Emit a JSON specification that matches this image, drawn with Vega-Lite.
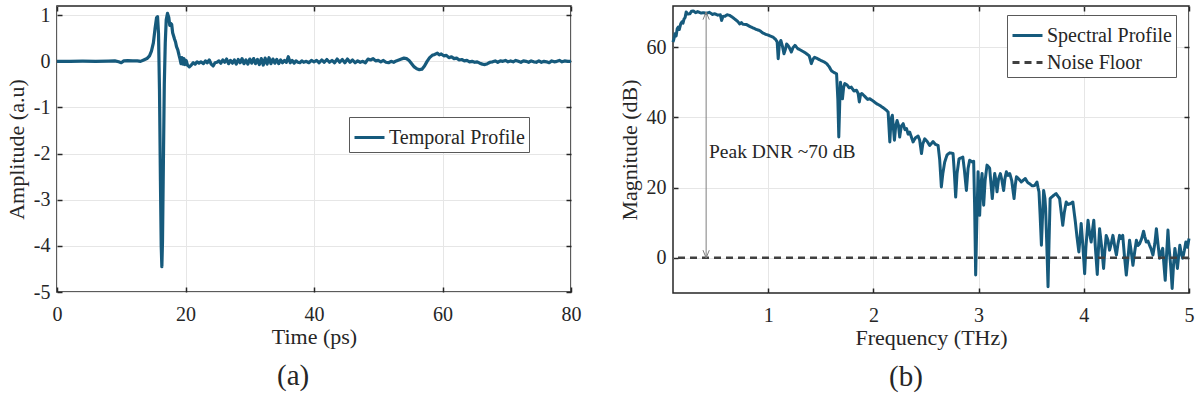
{
  "$schema": "https://vega.github.io/schema/vega-lite/v6.json",
  "background": "white",
  "padding": {"left": 4, "top": 4, "right": 0, "bottom": 0},
  "spacing": 102,
  "bounds": "flush",
  "resolve": {"scale": {"color": "independent", "strokeDash": "independent"}, "legend": {"color": "independent", "strokeDash": "independent"}},
  "config": {
    "font": "Liberation Serif",
    "view": {"stroke": "#262626", "strokeWidth": 1.5},
    "axis": {
      "labelFont": "Liberation Serif", "titleFont": "Liberation Serif",
      "labelFontSize": 20, "titleFontSize": 22, "titleFontWeight": "normal",
      "labelColor": "#262626", "titleColor": "#262626",
      "gridColor": "#e6e6e6", "gridWidth": 1, "domain": false,
      "tickColor": "#262626", "tickSize": -5, "tickWidth": 1.5
    },
    "legend": {
      "labelFont": "Liberation Serif", "labelFontSize": 20, "labelColor": "#262626",
      "fillColor": "#ffffff", "strokeColor": "#595959", "padding": 4,
      "symbolType": "stroke", "symbolSize": 900, "symbolStrokeWidth": 3,
      "labelOffset": 3, "rowPadding": 0, "title": null
    },
    "title": {"font": "Liberation Serif", "fontWeight": "normal", "color": "#262626"},
    "text": {"font": "Liberation Serif"}
  },
  "datasets": {
    "temporal": [
      {"t":0,"a":0},{"t":2,"a":0},{"t":4,"a":0.003},{"t":6,"a":0},{"t":8,"a":0.005},{"t":9,"a":0.01},{"t":9.6,"a":-0.01},{"t":10,"a":-0.03},{"t":10.4,"a":0.01},{"t":11,"a":0.015},{"t":11.8,"a":0.01},{"t":12.5,"a":0.01},{"t":13,"a":0},{"t":13.5,"a":0.03},{"t":14,"a":0.06},{"t":14.4,"a":0.12},{"t":14.7,"a":0.22},{"t":15,"a":0.4},{"t":15.25,"a":0.7},{"t":15.5,"a":0.95},{"t":15.65,"a":0.97},{"t":15.8,"a":0.6},{"t":15.95,"a":-0.6},{"t":16.1,"a":-2.6},{"t":16.22,"a":-4},{"t":16.32,"a":-4.45},{"t":16.42,"a":-3.9},{"t":16.55,"a":-2.3},{"t":16.7,"a":-0.5},{"t":16.85,"a":0.4},{"t":17,"a":0.9},{"t":17.2,"a":1.04},{"t":17.4,"a":0.95},{"t":17.55,"a":0.78},{"t":17.7,"a":0.82},{"t":17.85,"a":0.8},{"t":18,"a":0.62},{"t":18.15,"a":0.55},{"t":18.3,"a":0.48},{"t":18.45,"a":0.42},{"t":18.6,"a":0.32},{"t":18.8,"a":0.25},{"t":19,"a":0.13},{"t":19.15,"a":0.05},{"t":19.3,"a":-0.05},{"t":19.45,"a":0.08},{"t":19.6,"a":-0.06},{"t":19.75,"a":0.06},{"t":19.9,"a":-0.07},{"t":20.1,"a":0.02},{"t":20.3,"a":-0.08},{"t":20.6,"a":-0.12},{"t":20.9,"a":-0.08},{"t":21.2,"a":-0.03},{"t":21.5,"a":-0.06},{"t":21.8,"a":-0.01},{"t":22.1,"a":-0.04},{"t":22.4,"a":-0.01},{"t":22.8,"a":-0.05},{"t":23.1,"a":0.01},{"t":23.4,"a":-0.03},{"t":23.7,"a":0.03},{"t":24,"a":-0.06},{"t":24.3,"a":-0.1},{"t":24.6,"a":-0.03},{"t":24.9,"a":-0.02},{"t":25.2,"a":0.01},{"t":25.5,"a":-0.04},{"t":25.8,"a":0.03},{"t":26.1,"a":-0.02},{"t":26.4,"a":0.05},{"t":26.7,"a":-0.05},{"t":27,"a":0.02},{"t":27.3,"a":-0.04},{"t":27.6,"a":0.03},{"t":27.9,"a":-0.06},{"t":28.2,"a":0.04},{"t":28.5,"a":-0.03},{"t":28.8,"a":0.06},{"t":29.1,"a":-0.05},{"t":29.4,"a":0.03},{"t":29.7,"a":-0.06},{"t":30,"a":0.05},{"t":30.3,"a":-0.04},{"t":30.6,"a":0.06},{"t":30.9,"a":-0.05},{"t":31.2,"a":0.04},{"t":31.5,"a":-0.07},{"t":31.8,"a":0.06},{"t":32.1,"a":-0.08},{"t":32.4,"a":0.07},{"t":32.7,"a":-0.06},{"t":33,"a":0.08},{"t":33.3,"a":-0.05},{"t":33.6,"a":0.05},{"t":33.9,"a":-0.04},{"t":34.2,"a":0.04},{"t":34.5,"a":-0.05},{"t":34.8,"a":0.03},{"t":35.1,"a":-0.03},{"t":35.4,"a":0.02},{"t":35.7,"a":-0.02},{"t":36,"a":0.1},{"t":36.3,"a":-0.03},{"t":36.6,"a":0.02},{"t":36.9,"a":-0.04},{"t":37.2,"a":0.01},{"t":37.5,"a":-0.02},{"t":37.8,"a":-0.03},{"t":38.1,"a":0.01},{"t":38.4,"a":-0.02},{"t":38.8,"a":0},{"t":39.2,"a":-0.03},{"t":39.6,"a":0.02},{"t":40,"a":-0.01},{"t":40.4,"a":0.02},{"t":40.8,"a":-0.03},{"t":41.2,"a":0.03},{"t":41.6,"a":-0.02},{"t":42,"a":0.04},{"t":42.4,"a":-0.02},{"t":42.8,"a":0.02},{"t":43.2,"a":-0.03},{"t":43.6,"a":0.05},{"t":44,"a":-0.02},{"t":44.4,"a":0.04},{"t":44.8,"a":-0.03},{"t":45.2,"a":0.05},{"t":45.6,"a":-0.02},{"t":46,"a":0.03},{"t":46.4,"a":-0.03},{"t":46.8,"a":0.01},{"t":47.2,"a":-0.02},{"t":47.6,"a":0},{"t":48,"a":-0.03},{"t":48.4,"a":0.05},{"t":48.8,"a":0.03},{"t":49.2,"a":0.06},{"t":49.6,"a":0.01},{"t":50,"a":0.02},{"t":50.4,"a":-0.01},{"t":50.8,"a":0.02},{"t":51.2,"a":-0.02},{"t":51.6,"a":-0.03},{"t":52,"a":0},{"t":52.4,"a":-0.02},{"t":52.8,"a":0.01},{"t":53.2,"a":0.03},{"t":53.6,"a":0.05},{"t":54,"a":0.07},{"t":54.4,"a":0.06},{"t":54.8,"a":0.02},{"t":55.2,"a":-0.05},{"t":55.6,"a":-0.12},{"t":56,"a":-0.16},{"t":56.4,"a":-0.18},{"t":56.8,"a":-0.17},{"t":57.2,"a":-0.1},{"t":57.6,"a":0},{"t":58,"a":0.08},{"t":58.4,"a":0.13},{"t":58.8,"a":0.15},{"t":59.2,"a":0.18},{"t":59.5,"a":0.14},{"t":59.8,"a":0.16},{"t":60.2,"a":0.12},{"t":60.6,"a":0.13},{"t":61,"a":0.08},{"t":61.4,"a":0.1},{"t":61.8,"a":0.06},{"t":62.2,"a":0.07},{"t":62.6,"a":0.03},{"t":63,"a":0.04},{"t":63.4,"a":0.01},{"t":63.8,"a":0.02},{"t":64.2,"a":-0.01},{"t":64.6,"a":0},{"t":65,"a":-0.02},{"t":65.4,"a":-0.01},{"t":65.8,"a":-0.04},{"t":66.2,"a":-0.06},{"t":66.6,"a":-0.07},{"t":67,"a":-0.05},{"t":67.4,"a":-0.02},{"t":67.8,"a":-0.01},{"t":68.2,"a":0.01},{"t":68.6,"a":-0.02},{"t":69,"a":0.01},{"t":69.4,"a":0},{"t":69.8,"a":0.02},{"t":70.2,"a":-0.01},{"t":70.6,"a":0.01},{"t":71,"a":-0.01},{"t":71.4,"a":0.02},{"t":71.8,"a":0},{"t":72.2,"a":-0.02},{"t":72.6,"a":0.01},{"t":73,"a":0},{"t":73.4,"a":-0.02},{"t":73.8,"a":0.01},{"t":74.2,"a":-0.01},{"t":74.6,"a":-0.02},{"t":75,"a":0.01},{"t":75.4,"a":-0.02},{"t":75.8,"a":0},{"t":76.2,"a":-0.01},{"t":76.6,"a":-0.03},{"t":77,"a":0.01},{"t":77.4,"a":-0.01},{"t":77.8,"a":0},{"t":78.2,"a":0.02},{"t":78.6,"a":-0.01},{"t":79,"a":0.01},{"t":79.5,"a":0},{"t":80,"a":0}
    ],
    "spectral": [
      {"f":0.095,"db":61.4},{"f":0.105,"db":62.5},{"f":0.114,"db":63.8},{"f":0.125,"db":63.2},{"f":0.135,"db":65.2},{"f":0.145,"db":65.7},{"f":0.155,"db":65},{"f":0.168,"db":66.6},{"f":0.18,"db":67.2},{"f":0.19,"db":66.8},{"f":0.2,"db":68},{"f":0.21,"db":68.4},{"f":0.22,"db":70},{"f":0.235,"db":69.4},{"f":0.256,"db":69.5},{"f":0.27,"db":70.2},{"f":0.288,"db":70.3},{"f":0.31,"db":69.8},{"f":0.33,"db":70.1},{"f":0.36,"db":69.7},{"f":0.383,"db":69.8},{"f":0.41,"db":69.6},{"f":0.44,"db":69.9},{"f":0.47,"db":69.3},{"f":0.494,"db":69.5},{"f":0.52,"db":69.1},{"f":0.545,"db":69.2},{"f":0.557,"db":67.6},{"f":0.57,"db":68.7},{"f":0.59,"db":68.8},{"f":0.61,"db":69.2},{"f":0.636,"db":69},{"f":0.66,"db":68.5},{"f":0.69,"db":67.8},{"f":0.71,"db":67.3},{"f":0.73,"db":66.6},{"f":0.745,"db":67},{"f":0.76,"db":66.5},{"f":0.795,"db":66.4},{"f":0.83,"db":65.8},{"f":0.86,"db":65.4},{"f":0.89,"db":65},{"f":0.92,"db":64.7},{"f":0.95,"db":64},{"f":0.98,"db":63.6},{"f":1.01,"db":63.3},{"f":1.048,"db":62.8},{"f":1.07,"db":62.2},{"f":1.085,"db":61.5},{"f":1.095,"db":56.7},{"f":1.105,"db":60.5},{"f":1.12,"db":61.9},{"f":1.135,"db":60.3},{"f":1.15,"db":58.1},{"f":1.165,"db":59.5},{"f":1.175,"db":60.9},{"f":1.195,"db":60.2},{"f":1.22,"db":58.6},{"f":1.235,"db":59.8},{"f":1.254,"db":60.5},{"f":1.28,"db":59.6},{"f":1.31,"db":59.1},{"f":1.34,"db":58.6},{"f":1.365,"db":58.1},{"f":1.39,"db":57.5},{"f":1.41,"db":55.3},{"f":1.425,"db":56.5},{"f":1.44,"db":57.1},{"f":1.47,"db":56.7},{"f":1.5,"db":56.2},{"f":1.53,"db":55.8},{"f":1.555,"db":55.3},{"f":1.58,"db":54.4},{"f":1.6,"db":53.3},{"f":1.618,"db":52.9},{"f":1.65,"db":52.4},{"f":1.662,"db":45},{"f":1.671,"db":34.4},{"f":1.68,"db":44},{"f":1.687,"db":50},{"f":1.698,"db":47.5},{"f":1.706,"db":45.3},{"f":1.717,"db":48.5},{"f":1.728,"db":49.6},{"f":1.75,"db":49.2},{"f":1.77,"db":48.4},{"f":1.79,"db":48.6},{"f":1.815,"db":47.5},{"f":1.84,"db":47.7},{"f":1.855,"db":46.8},{"f":1.866,"db":44.4},{"f":1.878,"db":46.5},{"f":1.89,"db":46.8},{"f":1.92,"db":45.9},{"f":1.945,"db":45.1},{"f":1.966,"db":45.3},{"f":2,"db":44.6},{"f":2.03,"db":43.9},{"f":2.06,"db":43.4},{"f":2.09,"db":42.8},{"f":2.125,"db":42},{"f":2.14,"db":41.5},{"f":2.156,"db":33},{"f":2.168,"db":39.5},{"f":2.18,"db":40.6},{"f":2.19,"db":37},{"f":2.2,"db":33.5},{"f":2.212,"db":37.5},{"f":2.225,"db":39.1},{"f":2.238,"db":37.8},{"f":2.25,"db":34.4},{"f":2.265,"db":37.5},{"f":2.283,"db":38.2},{"f":2.3,"db":36.5},{"f":2.315,"db":36.8},{"f":2.33,"db":35.2},{"f":2.345,"db":35.8},{"f":2.36,"db":34.5},{"f":2.377,"db":33},{"f":2.4,"db":34.2},{"f":2.425,"db":34.7},{"f":2.44,"db":33.5},{"f":2.457,"db":29.7},{"f":2.47,"db":32.5},{"f":2.488,"db":33.9},{"f":2.51,"db":33.2},{"f":2.535,"db":32},{"f":2.567,"db":33.1},{"f":2.59,"db":32.3},{"f":2.615,"db":32},{"f":2.63,"db":28},{"f":2.646,"db":20.2},{"f":2.66,"db":24},{"f":2.678,"db":27.3},{"f":2.7,"db":29.3},{"f":2.725,"db":29.9},{"f":2.757,"db":29.7},{"f":2.77,"db":24},{"f":2.782,"db":17.3},{"f":2.795,"db":24},{"f":2.814,"db":28.2},{"f":2.85,"db":28.7},{"f":2.865,"db":25},{"f":2.884,"db":19.2},{"f":2.9,"db":25.5},{"f":2.915,"db":27.8},{"f":2.94,"db":27.3},{"f":2.953,"db":27.5},{"f":2.962,"db":15},{"f":2.972,"db":-4.9},{"f":2.983,"db":10},{"f":2.995,"db":24.5},{"f":3.003,"db":18},{"f":3.01,"db":12.1},{"f":3.02,"db":20},{"f":3.033,"db":24},{"f":3.04,"db":19},{"f":3.048,"db":15},{"f":3.062,"db":22},{"f":3.08,"db":26.4},{"f":3.105,"db":25.5},{"f":3.118,"db":21},{"f":3.13,"db":16.9},{"f":3.142,"db":21},{"f":3.153,"db":24},{"f":3.165,"db":22},{"f":3.175,"db":18.8},{"f":3.19,"db":22.5},{"f":3.207,"db":24},{"f":3.222,"db":22},{"f":3.238,"db":19.2},{"f":3.25,"db":22.5},{"f":3.264,"db":24.5},{"f":3.28,"db":23.5},{"f":3.296,"db":24},{"f":3.315,"db":22},{"f":3.337,"db":16.9},{"f":3.35,"db":21},{"f":3.36,"db":23.1},{"f":3.38,"db":22.5},{"f":3.406,"db":21.6},{"f":3.425,"db":22.1},{"f":3.444,"db":22.6},{"f":3.465,"db":21.5},{"f":3.485,"db":21.1},{"f":3.51,"db":20.5},{"f":3.533,"db":20.6},{"f":3.555,"db":21.6},{"f":3.565,"db":20},{"f":3.574,"db":18.8},{"f":3.585,"db":12},{"f":3.597,"db":3.6},{"f":3.608,"db":12},{"f":3.618,"db":19.2},{"f":3.63,"db":17},{"f":3.637,"db":14},{"f":3.648,"db":4},{"f":3.66,"db":-8.2},{"f":3.67,"db":5},{"f":3.68,"db":16.9},{"f":3.706,"db":17.6},{"f":3.737,"db":18.3},{"f":3.755,"db":17.5},{"f":3.77,"db":16.9},{"f":3.785,"db":13},{"f":3.8,"db":9.3},{"f":3.815,"db":13},{"f":3.833,"db":15.9},{"f":3.85,"db":15.2},{"f":3.87,"db":15.4},{"f":3.896,"db":15.9},{"f":3.92,"db":10.2},{"f":3.935,"db":6},{"f":3.953,"db":1.7},{"f":3.965,"db":6},{"f":3.975,"db":9.8},{"f":3.99,"db":4},{"f":4.008,"db":-4.5},{"f":4.02,"db":3},{"f":4.04,"db":10.7},{"f":4.055,"db":7},{"f":4.07,"db":4.5},{"f":4.083,"db":8},{"f":4.095,"db":10.7},{"f":4.11,"db":3},{"f":4.128,"db":-4.7},{"f":4.14,"db":3},{"f":4.15,"db":8.3},{"f":4.17,"db":3},{"f":4.188,"db":-3},{"f":4.2,"db":2},{"f":4.213,"db":6.4},{"f":4.23,"db":5},{"f":4.245,"db":2.2},{"f":4.26,"db":4},{"f":4.277,"db":6.4},{"f":4.295,"db":3},{"f":4.31,"db":0.8},{"f":4.325,"db":4},{"f":4.34,"db":6.4},{"f":4.355,"db":5.5},{"f":4.37,"db":6.4},{"f":4.385,"db":1},{"f":4.404,"db":-4.9},{"f":4.42,"db":0},{"f":4.435,"db":5},{"f":4.45,"db":2},{"f":4.467,"db":-2.1},{"f":4.485,"db":2},{"f":4.5,"db":5},{"f":4.515,"db":3.5},{"f":4.53,"db":4},{"f":4.55,"db":5.5},{"f":4.568,"db":7.6},{"f":4.58,"db":6},{"f":4.594,"db":4.5},{"f":4.61,"db":4.8},{"f":4.625,"db":3.6},{"f":4.64,"db":2.5},{"f":4.657,"db":0.8},{"f":4.675,"db":4},{"f":4.69,"db":8.3},{"f":4.705,"db":4},{"f":4.72,"db":-0.1},{"f":4.735,"db":1.5},{"f":4.75,"db":2.7},{"f":4.762,"db":-2},{"f":4.774,"db":-6.4},{"f":4.787,"db":1},{"f":4.8,"db":7.9},{"f":4.81,"db":3},{"f":4.82,"db":-0.1},{"f":4.83,"db":-4},{"f":4.84,"db":-8.7},{"f":4.853,"db":-2},{"f":4.866,"db":2.7},{"f":4.878,"db":0},{"f":4.89,"db":-3},{"f":4.9,"db":0},{"f":4.913,"db":3.6},{"f":4.925,"db":1.5},{"f":4.94,"db":-0.1},{"f":4.955,"db":2},{"f":4.97,"db":4.5},{"f":4.985,"db":3},{"f":5,"db":5.5}
    ],
    "noise": [{"db": 0}],
    "arrow": [{"f": 0.41, "lo": 0, "hi": 70}],
    "note": [{"f": 0.437, "db": 30, "label": "Peak DNR ~70 dB"}]
  },
  "hconcat": [
    {
      "width": 514,
      "height": 286,
      "title": {"text": "(a)", "orient": "bottom", "frame": "bounds", "fontSize": 29, "offset": 15},
      "layer": [
        {
          "data": {"name": "temporal"},
          "mark": {"type": "line", "strokeWidth": 3.2, "strokeJoin": "round"},
          "encoding": {
            "x": {"field": "t", "type": "quantitative", "scale": {"domain": [0, 80], "nice": false, "zero": false},
                  "axis": {"values": [0, 20, 40, 60, 80], "title": "Time (ps)", "labelFlush": false, "labelPadding": 17, "titlePadding": 2, "grid": true}},
            "y": {"field": "a", "type": "quantitative", "scale": {"domain": [-5, 1.2], "nice": false, "zero": false},
                  "axis": {"values": [-5, -4, -3, -2, -1, 0, 1], "title": "Amplitude (a.u)", "labelPadding": 12, "titlePadding": 5, "grid": true,
                           "labelExpr": "datum.value < 0 ? '-' + abs(datum.value) : '' + datum.value"}},
            "color": {"datum": "Temporal Profile", "type": "nominal", "scale": {"domain": ["Temporal Profile"], "range": ["#165a7c"]},
                      "legend": {"orient": "none", "legendX": 292, "legendY": 111}}
          }
        },
        {
          "data": {"name": "temporal"},
          "mark": {"type": "line", "strokeOpacity": 0},
          "encoding": {
            "x": {"field": "t", "type": "quantitative", "scale": {"domain": [0, 80], "nice": false, "zero": false},
                  "axis": {"orient": "top", "values": [0, 20, 40, 60, 80], "labels": false, "grid": false, "title": null}},
            "y": {"field": "a", "type": "quantitative", "scale": {"domain": [-5, 1.2], "nice": false, "zero": false},
                  "axis": {"orient": "right", "values": [-5, -4, -3, -2, -1, 0, 1], "labels": false, "grid": false, "title": null}}
          }
        }
      ],
      "resolve": {"axis": {"x": "independent", "y": "independent"}}
    },
    {
      "width": 516,
      "height": 287,
      "title": {"text": "(b)", "orient": "bottom", "frame": "bounds", "fontSize": 29, "offset": 15},
      "layer": [
        {
          "data": {"name": "spectral"},
          "mark": {"type": "line", "strokeWidth": 3, "strokeJoin": "round"},
          "encoding": {
            "x": {"field": "f", "type": "quantitative", "scale": {"domain": [0.095, 5], "nice": false, "zero": false},
                  "axis": {"values": [1, 2, 3, 4, 5], "title": "Frequency (THz)", "labelFlush": false, "labelPadding": 17, "titlePadding": 2, "grid": true}},
            "y": {"field": "db", "type": "quantitative", "scale": {"domain": [-10, 71.7], "nice": false, "zero": false},
                  "axis": {"values": [0, 20, 40, 60], "title": "Magnitude (dB)", "labelPadding": 12, "titlePadding": 5, "grid": true}},
            "color": {"datum": "Spectral Profile", "type": "nominal",
                      "scale": {"domain": ["Spectral Profile", "Noise Floor"], "range": ["#165a7c", "#404040"]},
                      "legend": {"orient": "none", "legendX": 334, "legendY": 9}},
            "strokeDash": {"datum": "Spectral Profile", "type": "nominal",
                           "scale": {"domain": ["Spectral Profile", "Noise Floor"], "range": [[1, 0], [7, 5]]},
                           "legend": {"orient": "none", "legendX": 334, "legendY": 9}}
          }
        },
        {
          "data": {"name": "noise"},
          "mark": {"type": "rule", "strokeWidth": 2.5},
          "encoding": {
            "y": {"field": "db", "type": "quantitative", "scale": {"domain": [-10, 71.7], "nice": false, "zero": false}, "axis": null},
            "color": {"datum": "Noise Floor", "type": "nominal",
                      "scale": {"domain": ["Spectral Profile", "Noise Floor"], "range": ["#165a7c", "#404040"]}},
            "strokeDash": {"datum": "Noise Floor", "type": "nominal",
                           "scale": {"domain": ["Spectral Profile", "Noise Floor"], "range": [[1, 0], [7, 5]]}}
          }
        },
        {
          "data": {"name": "arrow"},
          "mark": {"type": "rule", "color": "#7f7f7f", "strokeWidth": 1},
          "encoding": {
            "x": {"field": "f", "type": "quantitative", "scale": {"domain": [0.095, 5], "nice": false, "zero": false}, "axis": null},
            "y": {"field": "lo", "type": "quantitative", "scale": {"domain": [-10, 71.7], "nice": false, "zero": false}, "axis": null},
            "y2": {"field": "hi"}
          }
        },
        {
          "data": {"name": "arrow"},
          "mark": {"type": "point", "shape": "M-0.45,1.1L0,0L0.45,1.1", "size": 196, "filled": false, "stroke": "#7f7f7f", "strokeWidth": 1, "opacity": 1},
          "encoding": {
            "x": {"field": "f", "type": "quantitative", "scale": {"domain": [0.095, 5], "nice": false, "zero": false}, "axis": null},
            "y": {"field": "hi", "type": "quantitative", "scale": {"domain": [-10, 71.7], "nice": false, "zero": false}, "axis": null}
          }
        },
        {
          "data": {"name": "arrow"},
          "mark": {"type": "point", "shape": "M-0.45,-1.1L0,0L0.45,-1.1", "size": 196, "filled": false, "stroke": "#7f7f7f", "strokeWidth": 1, "opacity": 1},
          "encoding": {
            "x": {"field": "f", "type": "quantitative", "scale": {"domain": [0.095, 5], "nice": false, "zero": false}, "axis": null},
            "y": {"field": "lo", "type": "quantitative", "scale": {"domain": [-10, 71.7], "nice": false, "zero": false}, "axis": null}
          }
        },
        {
          "data": {"name": "note"},
          "mark": {"type": "text", "align": "left", "baseline": "middle", "fontSize": 19.5, "font": "Liberation Serif", "color": "#262626"},
          "encoding": {
            "x": {"field": "f", "type": "quantitative", "scale": {"domain": [0.095, 5], "nice": false, "zero": false},
                  "axis": {"orient": "top", "values": [1, 2, 3, 4, 5], "labels": false, "grid": false, "title": null}},
            "y": {"field": "db", "type": "quantitative", "scale": {"domain": [-10, 71.7], "nice": false, "zero": false},
                  "axis": {"orient": "right", "values": [0, 20, 40, 60], "labels": false, "grid": false, "title": null}},
            "text": {"field": "label"}
          }
        }
      ],
      "resolve": {"axis": {"x": "independent", "y": "independent"}}
    }
  ]
}
